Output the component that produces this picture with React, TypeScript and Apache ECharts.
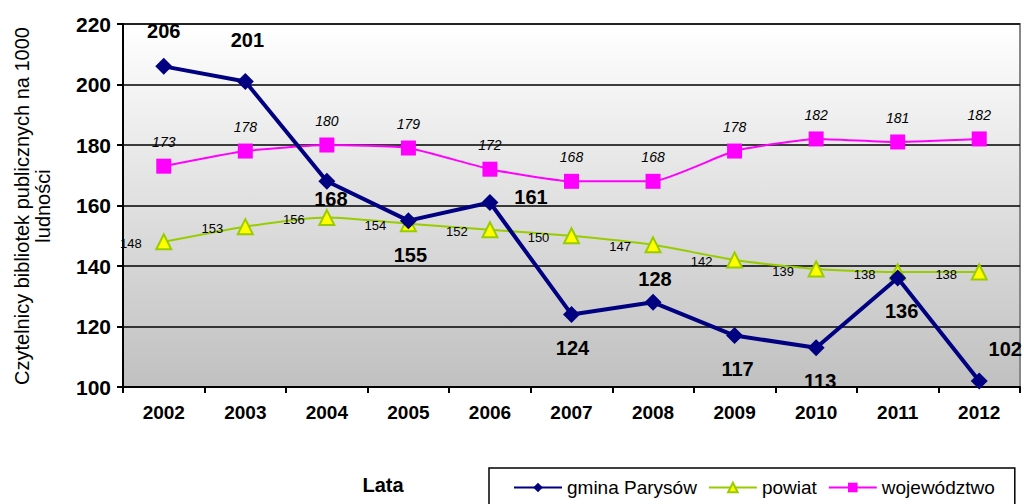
import React, { useEffect, useRef } from "react";
import * as echarts from "echarts";

const years = ["2002", "2003", "2004", "2005", "2006", "2007", "2008", "2009", "2010", "2011", "2012"];
const gmina = [206, 201, 168, 155, 161, 124, 128, 117, 113, 136, 102];
const powiat = [148, 153, 156, 154, 152, 150, 147, 142, 139, 138, 138];
const wojewodztwo = [173, 178, 180, 179, 172, 168, 168, 178, 182, 181, 182];
// label offsets (px) of gmina labels relative to their points
const gminaLabelOffsets = [[0, -35], [2, -41], [4, 18], [2, 34], [41, -5], [1, 34], [2, -23], [3, 33], [4, 33], [4, 33], [26, -32]];

export default function App() {
  const ref = useRef<HTMLDivElement>(null);
  useEffect(() => {
    const chart = echarts.init(ref.current!, null, { renderer: "svg" });
    const font = "Arial, 'Liberation Sans', sans-serif";
    const gminaData = gmina.map((v, i) => ({
      value: v,
      label: { position: "inside", offset: gminaLabelOffsets[i] },
    }));
    chart.setOption({
      animation: false,
      backgroundColor: "#ffffff",
      grid: {
        left: 123,
        top: 24,
        width: 897,
        height: 363,
        show: true,
        borderColor: "#888888",
        borderWidth: 2,
        backgroundColor: {
          type: "linear",
          x: 0, y: 0, x2: 0, y2: 1,
          colorStops: [
            { offset: 0, color: "#ffffff" },
            { offset: 1, color: "#c0c0c0" },
          ],
        },
      },
      xAxis: {
        type: "category",
        data: years,
        boundaryGap: true,
        axisLine: { lineStyle: { color: "#000", width: 2 } },
        axisTick: { show: true, inside: false, length: 6, lineStyle: { color: "#000", width: 2 } },
        axisLabel: { color: "#000", fontWeight: "bold", fontSize: 19, fontFamily: font, margin: 16 },
      },
      yAxis: {
        type: "value",
        min: 100,
        max: 220,
        interval: 20,
        axisLine: { show: true, lineStyle: { color: "#000", width: 2 } },
        axisTick: { show: true, length: 6, lineStyle: { color: "#000", width: 2 } },
        axisLabel: { color: "#000", fontWeight: "bold", fontSize: 21, fontFamily: font, margin: 12 },
        splitLine: { show: true, lineStyle: { color: "#000", width: 1.5 } },
      },
      legend: {
        left: 489,
        top: 468,
        width: 540,
        padding: [10, 20, 30, 24],
        borderColor: "#000",
        borderWidth: 1.5,
        itemWidth: 48,
        itemHeight: 12,
        itemGap: 11,
        textStyle: { color: "#000", fontSize: 19, fontFamily: font },
        data: ["gmina Parysów", "powiat", "województwo"],
      },
      graphic: [
        {
          type: "text",
          x: 32,
          y: 206,
          rotation: Math.PI / 2,
          style: {
            text: "Czytelnicy bibliotek publicznych na 1000\nludności",
            fill: "#000",
            fontSize: 20,
            fontFamily: font,
            align: "center",
            verticalAlign: "middle",
            lineHeight: 21,
          },
        },
        {
          type: "text",
          x: 383,
          y: 485,
          style: {
            text: "Lata",
            fill: "#000",
            fontSize: 20,
            fontWeight: "bold",
            fontFamily: font,
            align: "center",
            verticalAlign: "middle",
          },
        },
      ],
      series: [
        {
          name: "powiat",
          type: "line",
          data: powiat,
          smooth: 0.2,
          symbol: "triangle",
          symbolSize: 15,
          lineStyle: { color: "#99cc00", width: 2 },
          itemStyle: { color: "#ffff00", borderColor: "#99cc00", borderWidth: 2 },
          label: {
            show: true,
            position: "inside",
            offset: [-33, 2],
            color: "#000",
            fontSize: 13,
            fontFamily: font,
          },
          z: 2,
        },
        {
          name: "województwo",
          type: "line",
          data: wojewodztwo,
          smooth: 0.15,
          symbol: "rect",
          symbolSize: 15,
          lineStyle: { color: "#ff00ff", width: 2 },
          itemStyle: { color: "#ff00ff" },
          label: {
            show: true,
            position: "inside",
            offset: [0, -24],
            color: "#000",
            fontSize: 14,
            fontStyle: "italic",
            fontFamily: font,
          },
          z: 3,
        },
        {
          name: "gmina Parysów",
          type: "line",
          data: gminaData,
          symbol: "diamond",
          symbolSize: 17,
          lineStyle: { color: "#000080", width: 4 },
          itemStyle: { color: "#000080" },
          label: {
            show: true,
            color: "#000",
            fontSize: 20,
            fontWeight: "bold",
            fontFamily: font,
          },
          z: 4,
        },
      ],
    });
    return () => chart.dispose();
  }, []);
  return <div ref={ref} style={{ width: 1024, height: 504, position: "absolute", left: 0, top: 0 }} />;
}
